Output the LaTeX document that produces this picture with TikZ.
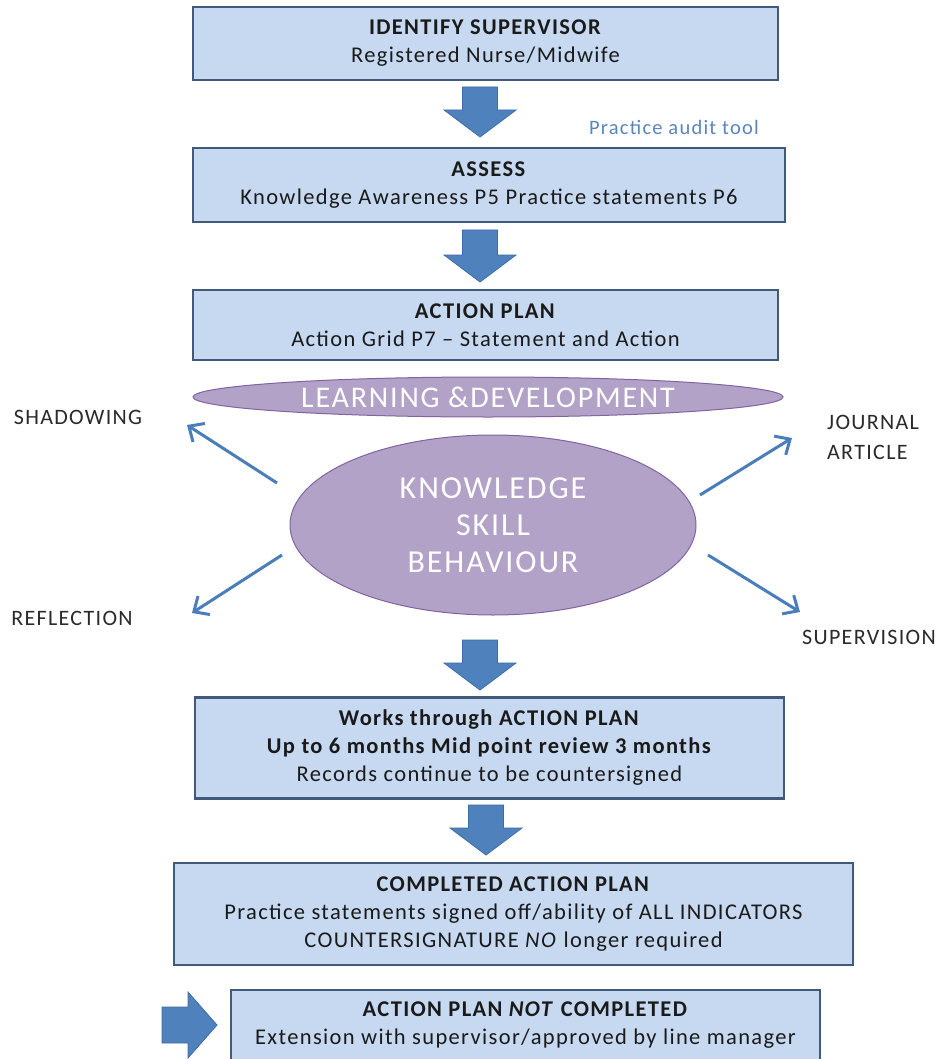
\documentclass[tikz,border=0pt]{standalone}
\usepackage{fontspec}
\setmainfont{Carlito}[LetterSpace=6]
\usetikzlibrary{arrows.meta,shapes.geometric}
\definecolor{boxfill}{HTML}{C6D9F1}
\definecolor{boxline}{HTML}{41597A}
\definecolor{barrow}{HTML}{4F81BD}
\definecolor{barrowedge}{HTML}{3D6CA8}
\definecolor{purp}{HTML}{B3A2C7}
\definecolor{purpedge}{HTML}{8064A2}
\definecolor{txt}{HTML}{1A1A1A}
\definecolor{lbltxt}{HTML}{2A2A2A}
\definecolor{audit}{HTML}{5A86C0}
\definecolor{thinblue}{HTML}{4A7EBB}
\newcommand{\boxfont}{\fontsize{22.5}{28}\selectfont}
\newcommand{\dnblock}[4]{%
  \filldraw[blockarrow] (#1-17.5,#2) -- (#1+17.5,#2) -- (#1+17.5,#3) -- (#1+36,#3)
    -- (#1,#4) -- (#1-36,#3) -- (#1-17.5,#3) -- cycle;}
\begin{document}
\begin{tikzpicture}[x=1pt,y=-1pt,
  box/.style={draw=boxline, line width=2.2pt, fill=boxfill, inner sep=0pt,
    align=center, text=txt, font=\boxfont},
  blockarrow/.style={fill=barrow, draw=barrowedge, line width=0.8pt, line join=miter},
  ellbox/.style={ellipse, fill=purp, draw=purpedge, line width=1pt, inner sep=0pt},
  lbl/.style={text=lbltxt, font=\fontsize{22}{30}\selectfont, inner sep=0pt},
  thinarrow/.style={draw=thinblue, line width=3pt,
    -{Straight Barb[length=12pt,width=22pt,line width=3pt]}}]
\useasboundingbox (0,0) rectangle (939,1059);
\fill[white] (0,0) rectangle (939,1059);

% boxes
\node[box, minimum width=585pt, minimum height=73pt] (b1) at (485.5,43.5)
  {\textbf{IDENTIFY SUPERVISOR}\\Registered Nurse/Midwife};
\node[box, minimum width=592pt, minimum height=74pt] (b2) at (489,185)
  {\textbf{ASSESS}\\Knowledge Awareness P5 Practice statements P6};
\node[box, minimum width=585pt, minimum height=70pt] (b3) at (485.5,325)
  {\textbf{ACTION PLAN}\\Action Grid P7 – Statement and Action};
\node[box, minimum width=589pt, minimum height=101pt] (b4) at (489.5,748)
  {\textbf{Works through ACTION PLAN}\\\textbf{Up to 6 months Mid point review 3 months}\\Records continue to be countersigned};
\node[box, minimum width=679pt, minimum height=102pt] (b5) at (513.5,914)
  {\textbf{COMPLETED ACTION PLAN}\\Practice statements signed off/ability of ALL INDICATORS\\COUNTERSIGNATURE \textit{NO} longer required};
\node[box, minimum width=589pt, minimum height=70pt] (b6) at (525.5,1025)
  {\textbf{ACTION PLAN \textit{NOT} COMPLETED}\\Extension with supervisor/approved by line manager};

% block arrows
\dnblock{480}{87}{110}{137}
\dnblock{480}{230}{255}{282}
\dnblock{480}{640}{663}{690}
\dnblock{486}{805}{828}{855}
\filldraw[blockarrow] (162,1007) -- (188,1007) -- (188,992) -- (217,1025)
  -- (188,1058) -- (188,1043) -- (162,1043) -- cycle;

\node[text=audit, font=\fontsize{20.5}{22}\selectfont, inner sep=0pt] (audit) at (674,127) {Practice audit tool};

% ellipses
\node[ellbox, minimum width=590pt, minimum height=40pt] (ld) at (488,397) {};
\node[text=white, font=\fontsize{30}{34}\selectfont, inner sep=0pt] (ldt) at (ld) {LEARNING \&DEVELOPMENT};
\node[ellbox, minimum width=406pt, minimum height=180pt, text=white, align=center,
  font=\fontsize{32}{37}\selectfont] (ksb) at (493,525) {KNOWLEDGE\\SKILL\\BEHAVIOUR};

% labels
\node[lbl] (shad) at (78,417) {SHADOWING};
\node[lbl] (refl) at (72,618) {REFLECTION};
\node[lbl, anchor=west, align=left] (jour) at (827,437) {JOURNAL\\ARTICLE};
\node[lbl] (supv) at (869,637) {SUPERVISION};

% thin arrows
\coordinate (sh1) at (277,483); \coordinate (sh2) at (187,425);
\coordinate (re1) at (282,555); \coordinate (re2) at (192,613);
\coordinate (jo1) at (700,495); \coordinate (jo2) at (792,438);
\coordinate (su1) at (708,555); \coordinate (su2) at (800,612);
\draw[thinarrow] (sh1) -- (sh2);
\draw[thinarrow] (re1) -- (re2);
\draw[thinarrow] (jo1) -- (jo2);
\draw[thinarrow] (su1) -- (su2);
\end{tikzpicture}
\end{document}
